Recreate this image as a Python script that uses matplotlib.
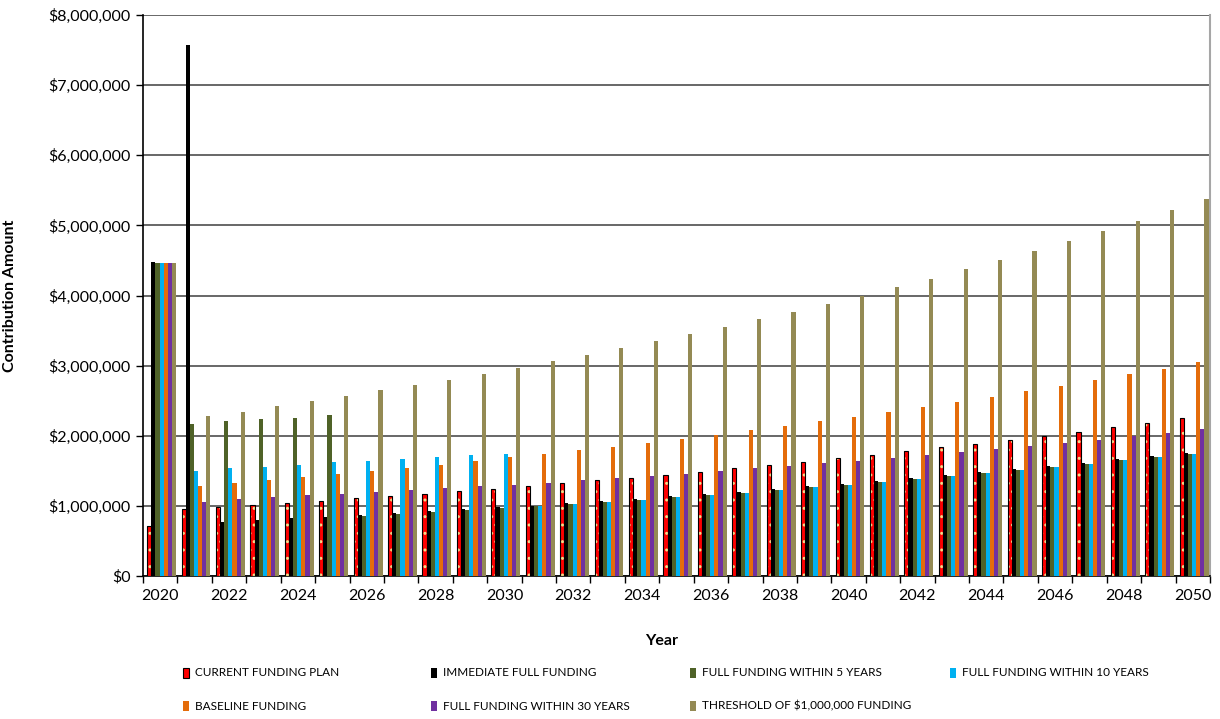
import numpy as np
import matplotlib
matplotlib.use("Agg")
import matplotlib.pyplot as plt
from matplotlib.patches import Rectangle
from matplotlib.ticker import FuncFormatter, MultipleLocator

plt.rcParams['font.family'] = ['Lato', 'DejaVu Sans']

years = list(range(2020, 2051))

# contributions in millions of dollars
current_plan = [0.72, 0.96, 0.99, 1.01, 1.04, 1.075, 1.11, 1.137, 1.175, 1.21, 1.245,
                1.285, 1.33, 1.365, 1.40, 1.445, 1.49, 1.54, 1.585, 1.63, 1.68,
                1.725, 1.78, 1.835, 1.885, 1.945, 2.00, 2.06, 2.125, 2.18, 2.255]
immediate_full = [4.475, 7.57, 0.77, 0.795, 0.82, 0.84, 0.87, 0.90, 0.925, 0.95, 0.98,
                  1.005, 1.04, 1.07, 1.105, 1.137, 1.17, 1.20, 1.24, 1.28, 1.31,
                  1.355, 1.395, 1.44, 1.48, 1.525, 1.57, 1.61, 1.665, 1.71, 1.76]
within_5 = [4.46, 2.17, 2.21, 2.24, 2.26, 2.29, 0.86, 0.885, 0.91, 0.935, 0.965,
            1.00, 1.02, 1.057, 1.09, 1.12, 1.157, 1.19, 1.23, 1.265, 1.30,
            1.34, 1.385, 1.425, 1.465, 1.51, 1.555, 1.60, 1.65, 1.70, 1.745]
within_10 = [4.46, 1.50, 1.54, 1.56, 1.59, 1.62, 1.645, 1.665, 1.69, 1.72, 1.745,
             1.00, 1.02, 1.057, 1.09, 1.12, 1.157, 1.19, 1.23, 1.265, 1.30,
             1.34, 1.385, 1.425, 1.465, 1.51, 1.555, 1.60, 1.65, 1.70, 1.745]
baseline = [4.46, 1.29, 1.33, 1.375, 1.41, 1.455, 1.50, 1.545, 1.59, 1.64, 1.69,
            1.735, 1.79, 1.845, 1.895, 1.96, 2.015, 2.08, 2.145, 2.205, 2.27,
            2.34, 2.41, 2.485, 2.555, 2.635, 2.715, 2.795, 2.875, 2.955, 3.045]
within_30 = [4.46, 1.06, 1.10, 1.13, 1.15, 1.175, 1.20, 1.23, 1.25, 1.28, 1.30,
             1.33, 1.37, 1.40, 1.43, 1.46, 1.50, 1.535, 1.565, 1.61, 1.645,
             1.68, 1.72, 1.765, 1.805, 1.85, 1.90, 1.945, 2.00, 2.04, 2.09]
threshold = [4.46, 2.28, 2.34, 2.42, 2.50, 2.57, 2.65, 2.72, 2.80, 2.885, 2.97,
             3.065, 3.155, 3.255, 3.35, 3.45, 3.555, 3.66, 3.77, 3.88, 4.00,
             4.12, 4.24, 4.375, 4.51, 4.64, 4.78, 4.92, 5.065, 5.22, 5.37]

labels = ["CURRENT FUNDING PLAN", "IMMEDIATE FULL FUNDING",
          "FULL FUNDING WITHIN 5 YEARS", "FULL FUNDING WITHIN 10 YEARS",
          "BASELINE FUNDING", "FULL FUNDING WITHIN 30 YEARS",
          "THRESHOLD OF $1,000,000 FUNDING"]
series = [current_plan, immediate_full, within_5, within_10,
          baseline, within_30, threshold]
colors = ['#ff0000', '#000000', '#4f6228', '#00b0f0', '#e46c0a', '#7030a0', '#948a54']

fig = plt.figure(figsize=(12.2, 7.19), dpi=100)
ax = fig.add_axes([143 / 1220, 1 - 576 / 719, 1067 / 1220, 561 / 719])

x = np.arange(len(years))
w = 0.12
for i, (vals, c) in enumerate(zip(series, colors)):
    pos = x + (i - 3) * w + 0.04
    v = np.array(vals) * 1e6
    if i == 0:
        # red with a dotted fill and a black outline
        ax.bar(pos, v, w, color=c, edgecolor='#f5dc8a', hatch='..', linewidth=0, zorder=3)
        ax.bar(pos, v, w, fill=False, edgecolor='black', linewidth=0.8, zorder=4)
    else:
        ax.bar(pos, v, w, color=c, linewidth=0, zorder=3)

ax.set_xlim(-0.5, len(years) - 0.5)
ax.set_ylim(0, 8e6)
ax.yaxis.set_major_locator(MultipleLocator(1e6))
ax.yaxis.set_major_formatter(FuncFormatter(lambda v, p: '${:,.0f}'.format(v)))
ax.yaxis.grid(True, color='#5c5c5c', linewidth=1.3, zorder=0)
ax.set_axisbelow(True)

ax.set_xticks(x[::2])
ax.set_xticklabels([str(y) for y in years[::2]])
ax.set_xticks(np.arange(-0.5, len(years), 1.0), minor=True)
ax.tick_params(axis='x', which='major', length=0, labelsize=11.5, pad=9)
ax.tick_params(axis='x', which='minor', length=5, width=1, color='black', direction='out')
ax.tick_params(axis='y', length=5, width=1, labelsize=11.5, pad=4, direction='out')

for s in ['left', 'bottom']:
    ax.spines[s].set_color('black')
    ax.spines[s].set_linewidth(1.2)
ax.spines['top'].set_visible(False)
ax.spines['right'].set_color('#a6a6a6')
ax.spines['right'].set_linewidth(1.5)

ax.set_ylabel('Contribution Amount', fontsize=11.5, fontweight='bold')
ax.yaxis.set_label_coords(-0.118, 0.5)
ax.set_xlabel('Year', fontsize=11.5, fontweight='bold')
ax.xaxis.set_label_coords(0.486, -0.103)

# legend laid out in two rows, four columns
col_x = [183, 431, 690, 950]
row_y = [673, 706]
for i, (lab, c) in enumerate(zip(labels, colors)):
    px = col_x[i % 4]
    py = row_y[i // 4]
    fig.patches.append(Rectangle((px / 1220, 1 - (py + 5) / 719), 6 / 1220, 10 / 719,
                                 transform=fig.transFigure, facecolor=c,
                                 edgecolor='black' if i == 0 else 'none',
                                 linewidth=0.8))
    fig.text((px + 12) / 1220, 1 - py / 719, lab, fontsize=8.5,
             va='center', ha='left')

fig.savefig('out.png', dpi=100)
